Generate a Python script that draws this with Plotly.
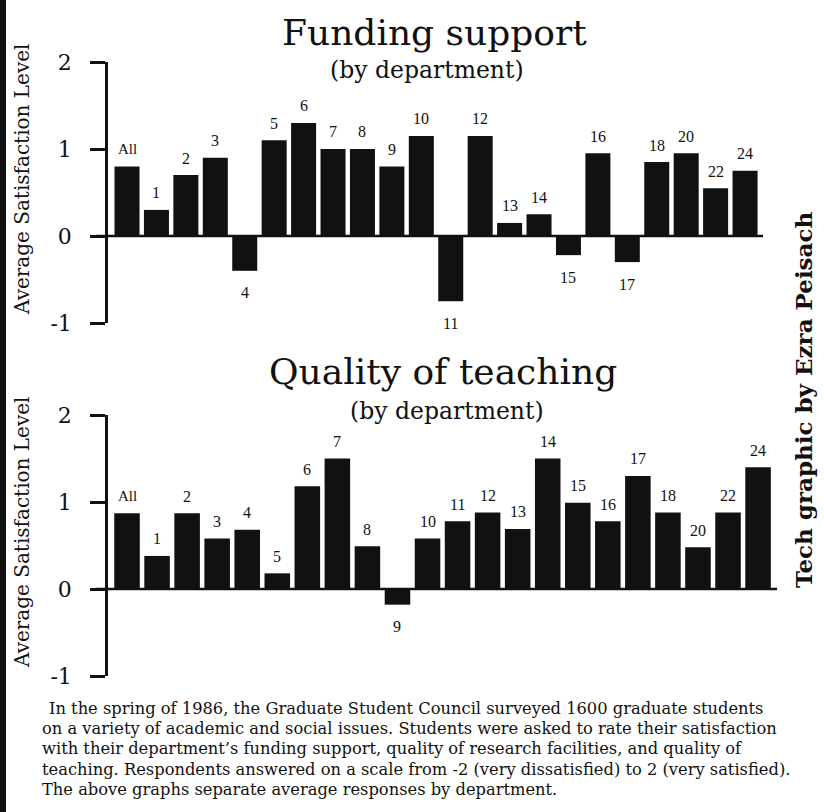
import plotly.graph_objects as go

W, H = 824, 812

departments = ["All", "1", "2", "3", "4", "5", "6", "7", "8", "9", "10", "11",
               "12", "13", "14", "15", "16", "17", "18", "20", "22", "24"]
funding_support = [0.80, 0.30, 0.70, 0.90, -0.40, 1.10, 1.30, 1.00, 1.00, 0.80, 1.15, -0.75,
                   1.15, 0.15, 0.25, -0.22, 0.95, -0.30, 0.85, 0.95, 0.55, 0.75]
quality_teaching = [0.87, 0.38, 0.87, 0.58, 0.68, 0.18, 1.18, 1.50, 0.49, -0.18, 0.58, 0.78,
                    0.88, 0.69, 1.50, 0.99, 0.78, 1.30, 0.88, 0.48, 0.88, 1.40]
y_ticks = [-1, 0, 1, 2]
y_tick_labels = ["-1", "0", "1", "2"]

titles = ["Funding support", "Quality of teaching"]
subtitle = "(by department)"
y_title = "Average Satisfaction Level"
credit = "Tech graphic by Ezra Peisach"
caption_lines = [
    "In the spring of 1986, the Graduate Student Council surveyed 1600 graduate students",
    "on a variety of academic and social issues. Students were asked to rate their satisfaction",
    "with their department\u2019s funding support, quality of research facilities, and quality of",
    "teaching. Respondents answered on a scale from -2 (very dissatisfied) to 2 (very satisfied).",
    "The above graphs separate average responses by department.",
]

SERIF = "DejaVu Serif"
TIMES = "Liberation Serif"
INK = "#111111"


def px_x(p):
    return p / W


def px_y(p):
    return 1 - p / H


fig = go.Figure()

panels = [
    dict(values=funding_support, xaxis="x", yaxis="y",
         xdom=[px_x(108), px_x(763)], xr=[-0.646, 21.61],
         ydom=[px_y(323), px_y(62)], zl_x=[px_x(96), px_x(763)],
         title_x=434, title_y=33, sub_x=427, sub_y=70, ytitle_y=180),
    dict(values=quality_teaching, xaxis="x2", yaxis="y2",
         xdom=[px_x(108), px_x(777)], xr=[-0.633, 21.63],
         ydom=[px_y(676), px_y(415)], zl_x=[px_x(96), px_x(777)],
         title_x=443, title_y=371, sub_x=447, sub_y=411, ytitle_y=533),
]

annotations = []
shapes = []
layout_axes = {}

for i, p in enumerate(panels):
    fig.add_trace(go.Bar(
        x=departments, y=p["values"], xaxis=p["xaxis"], yaxis=p["yaxis"],
        marker=dict(color=INK, line=dict(width=0)),
        showlegend=False, hoverinfo="x+y",
    ))
    sfx = "" if i == 0 else "2"
    layout_axes["xaxis" + sfx] = dict(
        domain=p["xdom"], range=p["xr"], type="category",
        showticklabels=False, showgrid=False, zeroline=False, showline=False,
        anchor="y" + sfx, fixedrange=True, automargin=False,
    )
    layout_axes["yaxis" + sfx] = dict(
        domain=p["ydom"], range=[-1, 2], anchor="x" + sfx,
        tickmode="array", tickvals=y_ticks, ticktext=y_tick_labels,
        ticks="outside", ticklen=15, tickwidth=2.5, tickcolor=INK,
        ticklabelstandoff=14,
        tickfont=dict(family=SERIF, size=22, color=INK),
        showline=True, linewidth=2.5, linecolor=INK,
        showgrid=False, zeroline=False, fixedrange=True, automargin=False,
    )
    # baseline at zero
    shapes.append(dict(type="line", xref="paper", yref="y" + sfx,
                       x0=p["zl_x"][0], x1=p["zl_x"][1], y0=0, y1=0,
                       line=dict(color=INK, width=2.5)))
    # bar labels (category axis: position by category index)
    for k, (d, v) in enumerate(zip(departments, p["values"])):
        annotations.append(dict(
            x=k, y=v, xref="x" + sfx, yref="y" + sfx, text=d, showarrow=False,
            yshift=17 if v >= 0 else -22, yanchor="middle",
            font=dict(family=TIMES, size=16 if d != "All" else 15, color=INK),
        ))
    # titles
    annotations.append(dict(x=px_x(p["title_x"]), y=px_y(p["title_y"]), xref="paper", yref="paper",
                            text=titles[i], showarrow=False, xanchor="center", yanchor="middle",
                            font=dict(family=SERIF, size=36, color=INK)))
    annotations.append(dict(x=px_x(p["sub_x"]), y=px_y(p["sub_y"]), xref="paper", yref="paper",
                            text=subtitle, showarrow=False, xanchor="center", yanchor="middle",
                            font=dict(family=SERIF, size=23.5, color=INK)))
    annotations.append(dict(x=px_x(22), y=px_y(p["ytitle_y"]), xref="paper", yref="paper",
                            text=y_title, showarrow=False, textangle=-90,
                            xanchor="center", yanchor="middle",
                            font=dict(family=SERIF, size=20, color=INK)))

# credit on the right
annotations.append(dict(x=px_x(803), y=px_y(400), xref="paper", yref="paper",
                        text="<b>" + credit + "</b>", showarrow=False, textangle=-90,
                        xanchor="center", yanchor="middle",
                        font=dict(family=SERIF, size=23, color=INK)))

# caption
cap_y = [708, 728, 748, 769, 789]
for j, (line, yy) in enumerate(zip(caption_lines, cap_y)):
    annotations.append(dict(x=px_x(47 if j == 0 else 40), y=px_y(yy), xref="paper", yref="paper",
                            text=line, showarrow=False, xanchor="left", yanchor="middle",
                            font=dict(family=SERIF, size=16.3, color=INK)))

# scanned left border
shapes.append(dict(type="rect", xref="paper", yref="paper",
                   x0=0, x1=px_x(6), y0=0, y1=1, fillcolor=INK, line=dict(width=0)))

fig.update_layout(
    template="none",
    width=W, height=H,
    margin=dict(l=0, r=0, t=0, b=0, pad=0, autoexpand=False),
    paper_bgcolor="white", plot_bgcolor="white",
    bargap=0.15,
    annotations=annotations, shapes=shapes,
    **layout_axes,
)

fig.write_html("out.html", config={"displayModeBar": False},
               post_script="document.body.style.margin='0';")
